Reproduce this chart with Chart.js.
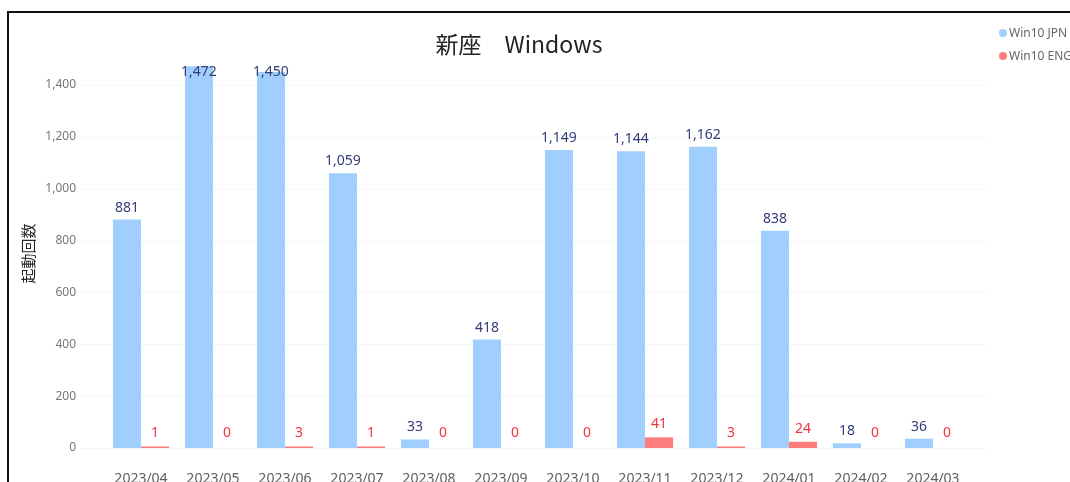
<!DOCTYPE html>
<html lang="ja">
<head>
    <meta charset="UTF-8">
    <title>新座 Windows</title>
    <script src="https://cdn.jsdelivr.net/npm/chart.js"></script>
    <style>
        body {
            margin: 0;
            padding: 0;
            background: #fff;
            font-family: 'Noto Sans', 'Noto Sans CJK JP', sans-serif;
            overflow: hidden;
        }
        .frame {
            position: absolute;
            left: 7px;
            top: 11px;
            width: 2000px;
            height: 2000px;
            border-left: 2px solid #111;
            border-top: 2px solid #111;
        }
        .wrap {
            position: absolute;
            left: 0;
            top: 0;
            width: 1070px;
            height: 482px;
        }
        .title {
            position: absolute;
            left: 0;
            top: 26px;
            width: 1038px;
            text-align: center;
            font-size: 23px;
            color: #252423;
            font-family: 'Noto Sans CJK JP', 'Noto Sans', sans-serif;
        }
        .legend {
            position: absolute;
            left: 999px;
            top: 24px;
            font-size: 12px;
            color: #666;
            white-space: nowrap;
        }
        .legend div {
            height: 23px;
            line-height: 18px;
        }
        .legend span.dot {
            display: inline-block;
            width: 8px;
            height: 8px;
            border-radius: 50%;
            margin-right: 2px;
            vertical-align: 0px;
        }
    </style>
</head>
<body>
    <div class="frame"></div>
    <div class="wrap"><canvas id="chart"></canvas></div>
    <div class="title">新座　Windows</div>
    <div class="legend" id="legend"></div>

    <script>
        const months = ['2023/04', '2023/05', '2023/06', '2023/07', '2023/08', '2023/09',
                        '2023/10', '2023/11', '2023/12', '2024/01', '2024/02', '2024/03'];
        const jpnCounts = [881, 1472, 1450, 1059, 33, 418, 1149, 1144, 1162, 838, 18, 36];
        const engCounts = [1, 0, 3, 1, 0, 0, 0, 41, 3, 24, 0, 0];
        const yTicks = [0, 200, 400, 600, 800, 1000, 1200, 1400];

        const blue = '#a0cffd';
        const red = '#fd7d7d';

        // legend
        const legend = document.getElementById('legend');
        [['Win10 JPN', blue], ['Win10 ENG', red]].forEach(([name, col]) => {
            const d = document.createElement('div');
            d.innerHTML = '<span class="dot" style="background:' + col + '"></span>' + name;
            legend.appendChild(d);
        });

        // dotted grid lines across the whole plot width
        const gridPlugin = {
            id: 'dotGrid',
            beforeDatasetsDraw(chart) {
                const y = chart.scales.y;
                const c = chart.ctx;
                c.save();
                c.strokeStyle = '#e2e2e2';
                c.lineWidth = 1;
                c.setLineDash([1, 3]);
                yTicks.forEach(v => {
                    const py = Math.round(y.getPixelForValue(v)) + 0.5;
                    c.beginPath();
                    c.moveTo(83, py);
                    c.lineTo(988, py);
                    c.stroke();
                });
                c.restore();
            }
        };

        // value labels above bars
        const labelPlugin = {
            id: 'barLabels',
            afterDatasetsDraw(chart) {
                const c = chart.ctx;
                const top = chart.chartArea.top;
                c.save();
                c.font = '14px "Noto Sans", sans-serif';
                c.textAlign = 'center';
                c.textBaseline = 'middle';
                chart.data.datasets.forEach((ds, di) => {
                    const meta = chart.getDatasetMeta(di);
                    meta.data.forEach((bar, i) => {
                        const val = ds.data[i];
                        let py = bar.y - (di === 0 ? 12 : 13);
                        if (py < top + 13) py = top + 13;
                        c.fillStyle = di === 0 ? '#343c78' : '#f2333d';
                        c.fillText(val.toLocaleString('en-US'), bar.x, py);
                    });
                });
                c.restore();
            }
        };

        new Chart(document.getElementById('chart'), {
            type: 'bar',
            data: {
                labels: months,
                datasets: [
                    {
                        label: 'Win10 JPN',
                        data: jpnCounts,
                        backgroundColor: blue,
                        categoryPercentage: 0.78,
                        barPercentage: 1.0
                    },
                    {
                        label: 'Win10 ENG',
                        data: engCounts,
                        backgroundColor: ctx => ctx.raw === 0 ? 'rgba(0,0,0,0)' : red,
                        minBarLength: 1.5,
                        categoryPercentage: 0.78,
                        barPercentage: 1.0
                    }
                ]
            },
            options: {
                responsive: true,
                maintainAspectRatio: false,
                animation: false,
                layout: { padding: { top: 59, right: 101, left: 0, bottom: 0 } },
                plugins: {
                    legend: { display: false },
                    tooltip: { enabled: false }
                },
                scales: {
                    x: {
                        grid: { display: false, drawTicks: false },
                        border: { display: false },
                        ticks: {
                            color: '#605e5c',
                            font: { size: 14, family: '"Noto Sans", sans-serif' },
                            padding: 23,
                            maxRotation: 0,
                            autoSkip: false
                        },
                        afterFit(scale) { scale.height = 34; }
                    },
                    y: {
                        min: 0,
                        max: 1500,
                        grid: { display: false, drawTicks: false },
                        border: { display: false },
                        afterBuildTicks(scale) {
                            scale.ticks = yTicks.map(v => ({ value: v }));
                        },
                        ticks: {
                            color: '#777',
                            font: { size: 12, family: '"Noto Sans", sans-serif' },
                            padding: 29,
                            callback: v => Number(v).toLocaleString('en-US')
                        },
                        title: {
                            display: true,
                            text: '起動回数',
                            color: '#252423',
                            font: { size: 15, family: '"Noto Sans CJK JP", sans-serif' },
                            padding: { top: 19, bottom: 0 }
                        },
                        afterFit(scale) {
                            scale.width = 105;
                            scale.paddingTop = 0;
                            scale.paddingBottom = 0;
                        }
                    }
                }
            },
            plugins: [gridPlugin, labelPlugin]
        });
    </script>
</body>
</html>
